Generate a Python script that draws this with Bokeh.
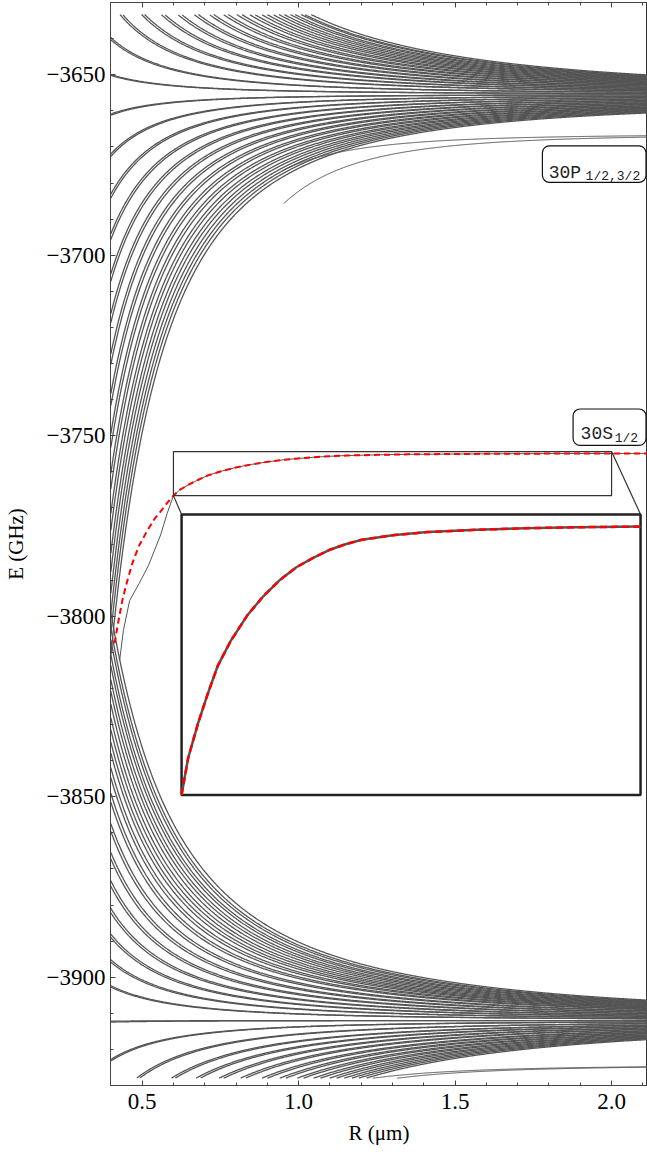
import numpy as np
from bokeh.plotting import figure
from bokeh.models import (Range1d, SingleIntervalTicker, LinearAxis, CustomJSTickFormatter,
                          Label, BoxAnnotation)
from bokeh.embed import file_html
from bokeh.resources import INLINE

# ---------------- data ----------------
R_MIN, R_MAX = 0.40, 2.115            # computed range of R (um)
E_WINDOW = (-3928.0, -3633.3)         # energy window of the computed curves (GHz)

# n=30 manifold (centre -3655.4 GHz)
UPPER_CENTER = -3655.4
# outer (upward) Stark lines: E = centre + s / R^2
UPPER_OUT_S = [0.85, 2.46, 4.15, 5.59, 7.09, 8.49, 10.0, 11.5, 13.0, 14.5, 16.0, 17.5,
               19.0, 20.5, 22.0, 23.4]
# inner (downward) lines: E = centre + s * (R^-2.3 + 0.1)
UPPER_IN_P, UPPER_IN_C = 2.3, 0.1
UPPER_IN_S = [-0.68, -2.03, -3.39, -4.74, -6.10, -7.45, -8.81, -10.16, -11.52, -12.87,
              -14.23, -15.58, -16.94, -18.3]

# n=29 manifold (centre -3912.0 GHz)
LOWER_CENTER = -3912.0
# outer (downward) lines: E = centre + s / R^2
LOWER_OUT_S = [-0.05, -1.76, -3.79, -5.74, -7.36, -9.07, -10.8, -12.7, -14.4, -16.15,
               -17.9, -19.65, -21.4, -23.15]
# inner (upward) lines: E = centre + s * R^-1.8
LOWER_IN_P = 1.8
LOWER_IN_S = [1.82, 3.17, 4.51, 5.85, 7.29, 8.77, 10.27, 11.86, 13.19, 14.53, 15.8,
              17.18, 18.52, 19.87, 21.3]
PAIR_SPLIT = 0.04                      # relative splitting of the doubled lines

# 30P_{1/2,3/2} and 29P pairs : E = E_inf - b / R^4 (shown where they are resolved)
P30_EINF = -3666.5
P30_B = [8.1, 15.8]
P30_RMIN = 0.95
P29_EINF = -3924.4
P29_B = [8.4, 10.7]
P29_RMIN = 1.0

# 30S_{1/2} curve: red dashed model
S30_R = [0.412, 0.425, 0.437, 0.450, 0.470, 0.490, 0.515, 0.540, 0.559, 0.580, 0.600,
         0.620, 0.650, 0.680, 0.710, 0.750, 0.800, 0.850, 0.900, 0.950, 1.000, 1.050,
         1.100, 1.150, 1.250, 1.350, 1.500, 1.650, 1.800, 2.000, 2.115]
S30_E = [-3807.5, -3801.0, -3795.5, -3791.0, -3785.0, -3780.5, -3776.5, -3773.0,
         -3771.0, -3768.6, -3766.6, -3765.0, -3763.5, -3762.2, -3761.0, -3759.9,
         -3758.8, -3757.95, -3757.25, -3756.7, -3756.3, -3755.95, -3755.7, -3755.5,
         -3755.3, -3755.17, -3755.07, -3755.0, -3754.96, -3754.93, -3754.9]
# full calculation (thin grey), differs from the model below R ~ 0.6
S30X_R = [0.428, 0.440, 0.460, 0.490, 0.520, 0.559, 0.580] + S30_R[10:]
S30X_E = [-3812.3, -3804.0, -3795.7, -3791.0, -3786.0, -3777.5, -3771.5] + S30_E[10:]

# inset: source window and where it is shown
ZOOM_SRC = (0.60, 2.00, -3766.6, -3754.4)     # x0, x1, y0, y1
ZOOM_DST = (0.626, 2.0926, -3849.5, -3771.8)

# ---------------- figure ----------------
GRAY = "#555555"
p = figure(width=647, height=1159, output_backend="svg", toolbar_location=None,
           x_range=Range1d(0.3989, 2.1148), y_range=Range1d(-3930.0, -3630.0),
           min_border_left=109, min_border_right=0, min_border_top=2, min_border_bottom=74)
p.grid.visible = False
p.outline_line_color = "#333333"
p.outline_line_width = 1
p.background_fill_color = "white"

R = np.linspace(R_MIN, R_MAX, 700)


def clip(e, rmin=R_MIN):
    m = (e >= E_WINDOW[0]) & (e <= E_WINDOW[1]) & (R >= rmin)
    return R[m], e[m]


shapes = [
    (UPPER_CENTER, UPPER_OUT_S, R ** -2.0),
    (UPPER_CENTER, UPPER_IN_S, R ** -UPPER_IN_P + UPPER_IN_C),
    (LOWER_CENTER, LOWER_OUT_S, R ** -2.0),
    (LOWER_CENTER, LOWER_IN_S, R ** -LOWER_IN_P),
]
xs, ys = [], []
for centre, slopes, shape in shapes:
    for s in slopes:
        for f in (1 - PAIR_SPLIT / 2, 1 + PAIR_SPLIT / 2):
            sv = s * f if abs(s) > 1 else s + (f - 1)
            rr, ee = clip(centre + sv * shape)
            if len(rr) > 1:
                xs.append(rr)
                ys.append(ee)
p.multi_line(xs, ys, line_color=GRAY, line_width=1.3)

pxs, pys = [], []
for einf, bs, rmin in ((P30_EINF, P30_B, P30_RMIN), (P29_EINF, P29_B, P29_RMIN)):
    for b in bs:
        rr, ee = clip(einf - b / R ** 4, rmin)
        pxs.append(rr)
        pys.append(ee)
p.multi_line(pxs, pys, line_color=GRAY, line_width=1.0)

# 30S curves in main plot
p.line(S30X_R, S30X_E, line_color=GRAY, line_width=1.0)
p.line(S30_R, S30_E, line_color="#ff0000", line_width=2.0, line_dash="6 4")

# inset
x0, x1, y0, y1 = ZOOM_SRC
X0, X1, Y0, Y1 = ZOOM_DST
p.add_layout(BoxAnnotation(left=x0, right=x1, bottom=y0, top=y1, fill_alpha=0,
                           line_color="#333333", line_alpha=1, line_width=1.2))
p.add_layout(BoxAnnotation(left=X0, right=X1, bottom=Y0, top=Y1, fill_color="white",
                           fill_alpha=1, line_color="#222222", line_alpha=1, line_width=2.5))
p.segment(x0=[x0, x1], y0=[y0, y1], x1=[X0, X1], y1=[Y1, Y1], line_color="#333333",
          line_width=1.2)


def to_inset(rv, ev):
    rv = np.asarray(rv, float)
    ev = np.asarray(ev, float)
    m = (rv >= x0 - 1e-9) & (rv <= x1 + 1e-9)
    return (X0 + (rv[m] - x0) / (x1 - x0) * (X1 - X0),
            Y0 + (ev[m] - y0) / (y1 - y0) * (Y1 - Y0))


gx, gy = to_inset(S30X_R, S30X_E)
rx, ry = to_inset(S30_R, S30_E)
g1 = p.line(gx, gy, line_color=GRAY, line_width=2.5)
g2 = p.line(rx, ry, line_color="#ff0000", line_width=2.5, line_dash="7 4")
g1.level = "overlay"
g2.level = "overlay"

# state labels
MONO = "Liberation Mono"
p.add_layout(BoxAnnotation(left=1.779, right=2.110, bottom=-3679.8, top=-3669.7,
                           fill_color="white", fill_alpha=1, line_color="#111111",
                           line_alpha=1, line_width=1.2, border_radius=7))
p.add_layout(Label(x=1.799, y=-3677.1, text="30P", text_font=MONO,
                   text_font_size="18px", text_baseline="alphabetic", text_color="#222222"))
p.add_layout(Label(x=1.917, y=-3678.3, text="1/2,3/2", text_font=MONO,
                   text_font_size="13px", text_baseline="alphabetic", text_color="#222222"))
p.add_layout(BoxAnnotation(left=1.877, right=2.110, bottom=-3752.7, top=-3742.6,
                           fill_color="white", fill_alpha=1, line_color="#111111",
                           line_alpha=1, line_width=1.2, border_radius=7))
p.add_layout(Label(x=1.901, y=-3749.6, text="30S", text_font=MONO,
                   text_font_size="18px", text_baseline="alphabetic", text_color="#222222"))
p.add_layout(Label(x=2.010, y=-3750.7, text="1/2", text_font=MONO,
                   text_font_size="13px", text_baseline="alphabetic", text_color="#222222"))

# axes
FONT = "Liberation Serif"
yfmt = CustomJSTickFormatter(code="return tick < 0 ? '\\u2212' + (-tick).toFixed(0) : tick.toFixed(0);")
xfmt = CustomJSTickFormatter(code="return tick.toFixed(1);")
for ax, fmt, interval in ((p.yaxis[0], yfmt, 50), (p.xaxis[0], xfmt, 0.5)):
    ax.ticker = SingleIntervalTicker(interval=interval, num_minor_ticks=5)
    ax.formatter = fmt
    ax.major_tick_in = 5
    ax.major_tick_out = 0
    ax.minor_tick_in = 3
    ax.minor_tick_out = 0
    ax.axis_line_color = "#444444"
    ax.major_tick_line_color = "#444444"
    ax.minor_tick_line_color = "#444444"
    ax.major_label_text_font = FONT
    ax.major_label_text_font_size = "23px"
    ax.major_label_text_color = "black"
    ax.axis_label_text_font = FONT
    ax.axis_label_text_font_size = "21px"
    ax.axis_label_text_font_style = "normal"
    ax.axis_label_text_color = "black"
p.yaxis.axis_label = "E (GHz)"
p.xaxis.axis_label = "R (\u03bcm)"
p.yaxis.major_label_standoff = 5
p.xaxis.major_label_standoff = 8
p.yaxis.axis_label_standoff = 16
p.xaxis.axis_label_standoff = 9

top = LinearAxis(ticker=SingleIntervalTicker(interval=0.5, num_minor_ticks=5),
                 formatter=CustomJSTickFormatter(code="return '';"),
                 major_tick_in=5, major_tick_out=0,
                 minor_tick_in=3, minor_tick_out=0, axis_line_color="#444444",
                 major_tick_line_color="#444444", minor_tick_line_color="#444444",
                 major_label_standoff=0)
p.add_layout(top, "above")

open("out.html", "w").write(file_html(p, INLINE))
